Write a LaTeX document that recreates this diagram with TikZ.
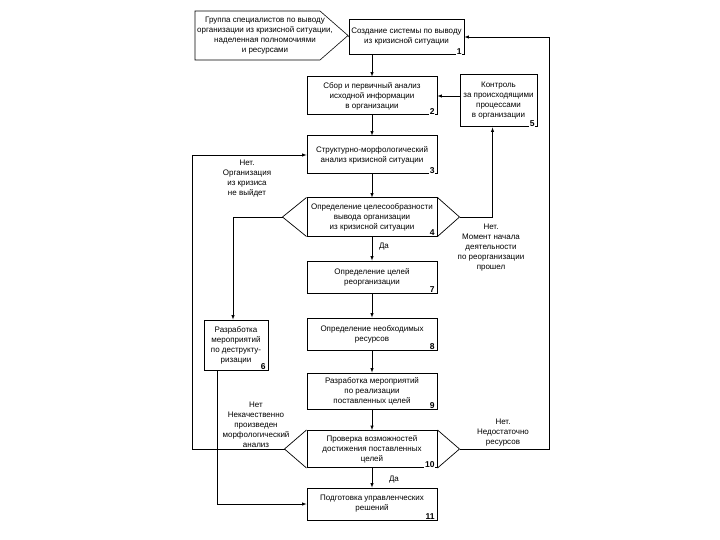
\documentclass[tikz,border=0pt]{standalone}
\usepackage{fontspec}
\setmainfont{Liberation Sans}
\usetikzlibrary{calc,arrows,positioning}

\begin{document}
\begin{tikzpicture}[x=1pt,y=-1pt,>=latex,
blk/.style={draw,line width=1pt,fill=white,align=center,inner sep=1pt,
  font=\fontsize{8}{10}\selectfont},
num/.style={anchor=south east,fill=white,inner sep=0.7pt,font=\fontsize{8.5}{8.5}\selectfont\bfseries},
lbl/.style={align=center,inner sep=1pt,font=\fontsize{8}{10}\selectfont},
con/.style={line width=0.5pt}]
\useasboundingbox (0,0) rectangle (720,540);
% input group
\draw[line width=0.6pt] (195,11) -- (320,11) -- (348,35.5) coordinate (gt) -- (320,60) -- (195,60) -- cycle;
\node[lbl] (grp) at (265,36) {Группа специалистов по выводу\\организации из кризисной ситуации,\\наделенная полномочиями\\и ресурсами};
% blocks
\node[blk,minimum width=115,minimum height=35] (b1) at (406.5,37) {Создание системы по выводу\\из кризисной ситуации};
\node[blk,minimum width=130,minimum height=38] (b2) at (372,96) {Сбор и первичный анализ\\исходной информации\\в организации};
\node[blk,minimum width=130,minimum height=38] (b3) at (372,155) {Структурно-морфологический\\анализ кризисной ситуации};
\node[blk,minimum width=130,minimum height=38] (b4) at (372,217) {Определение целесообразности\\вывода организации\\из кризисной ситуации};
\node[blk,minimum width=77,minimum height=52] (b5) at (498.5,101) {Контроль\\за происходящими\\процессами\\в организации};
\node[blk,minimum width=64,minimum height=50] (b6) at (236,345) {Разработка\\мероприятий\\по деструкту-\\ризации};
\node[blk,minimum width=130,minimum height=32] (b7) at (372,277) {Определение целей\\реорганизации};
\node[blk,minimum width=130,minimum height=32] (b8) at (372,334) {Определение необходимых\\ресурсов};
\node[blk,minimum width=130,minimum height=36] (b9) at (372,391) {Разработка мероприятий\\по реализации\\поставленных целей};
\node[blk,minimum width=130,minimum height=37] (b10) at (372,449) {Проверка возможностей\\достижения поставленных\\целей};
\node[blk,minimum width=130,minimum height=32] (b11) at (372,504) {Подготовка управленческих\\решений};
\foreach \b/\t in {b1/1,b2/2,b3/3,b4/4,b5/5,b6/6,b7/7,b8/8,b9/9,b10/10,b11/11}
    \node[num] at ($(\b.south east)+(-2,0)$) {\t};
% decision wings
\coordinate (b4l) at ($(b4.west)+(-24,0)$);
\coordinate (b4r) at ($(b4.east)+(22,0)$);
\coordinate (b10l) at ($(b10.west)+(-22,0)$);
\coordinate (b10r) at ($(b10.east)+(22,0)$);
\foreach \b in {b4,b10} {
    \draw[line width=0.7pt] (\b.north west) -- (\b l) -- (\b.south west);
    \draw[line width=0.7pt] (\b.north east) -- (\b r) -- (\b.south east);
}
% connectors
\draw[con] (gt) -- (b1.west);
\draw[con,->] (b2.north |- b1.south) -- (b2.north);
\foreach \a/\b in {b2/b3,b3/b4,b4/b7,b7/b8,b8/b9,b9/b10,b10/b11}
    \draw[con,->] (\a) -- (\b);
\draw[con,->] (b5.west |- b2.east) -- (b2.east);
\draw[con,->] (b4r) -| ($(b5.south)+(-6,0)$);
\draw[con,->] (b10r) -- ++(90,0) |- (b1.east);
\draw[con,->] (b4l) -| ($(b6.north)+(-3,0)$);
\draw[con,->] ($(b6.south west)+(14,0)$) |- (b11.west);
\draw[con,->] (b10l) -- ++(-92,0) |- (b3.west);
% labels
\node[lbl] (no1) at (247,179) {Нет.\\Организация\\из кризиса\\не выйдет};
\node[lbl] (yes1) at (384,247) {Да};
\node[lbl] (no2) at (491,248) {Нет.\\Момент начала\\деятельности\\по реорганизации\\прошел};
\node[lbl] (no3) at (256,425) {Нет\\Некачественно\\произведен\\морфологический\\анализ};
\node[lbl] (no4) at (503,433) {Нет.\\Недостаточно\\ресурсов};
\node[lbl] (yes2) at (394,480) {Да};
\end{tikzpicture}
\end{document}
